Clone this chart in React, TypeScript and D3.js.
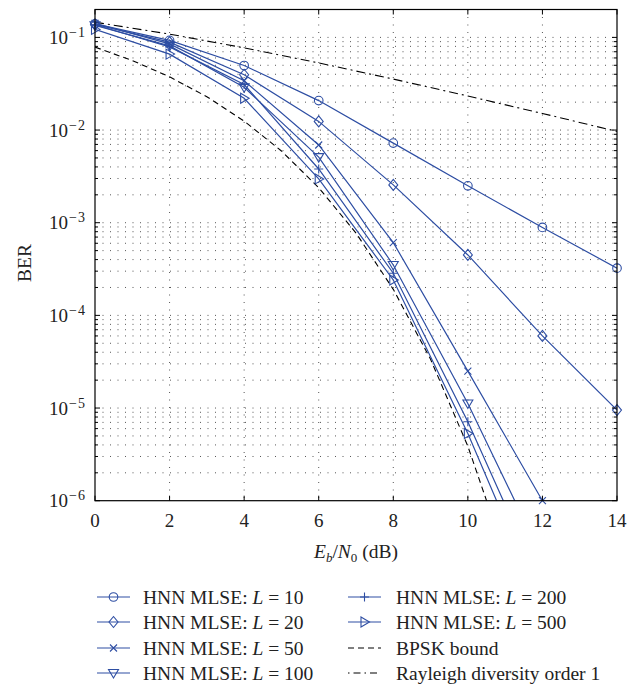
import React from "react";
import * as d3 from "d3";

const snrDb = [0, 2, 4, 6, 8, 10, 12, 14];
const berL10 = [0.14, 0.093, 0.0497, 0.0208, 0.00723, 0.0025, 0.00089, 0.000323];
const berL20 = [0.138, 0.089, 0.0395, 0.0124, 0.00256, 0.000449, 6.0e-5, 9.5e-6];
const berL50 = [0.142, 0.085, 0.034, 0.0069, 0.00061, 2.5e-5, 1.0e-6];
const berL100 = [0.135, 0.081, 0.029, 0.0051, 0.00035, 1.12e-5, 2.4e-7];
const berL200 = [0.137, 0.079, 0.031, 0.0038, 0.000285, 7.1e-6, 1.15e-7];
const berL500 = [0.122, 0.066, 0.022, 0.00297, 0.000241, 5.3e-6, 7e-8];

const bpskSnr = [0, 1, 2, 3, 4, 5, 6, 7, 8, 9, 10, 11];
const bpskBer = [0.0786, 0.0563, 0.0375, 0.0229, 0.0125, 0.00595, 0.00239, 0.000773, 0.000191, 3.36e-5, 3.87e-6, 2.61e-7];

const rayleighSnr = [0, 2, 4, 6, 8, 10, 12, 14];
const rayleighBer = [0.146, 0.1085, 0.0771, 0.053, 0.0355, 0.0233, 0.0151, 0.00967];

const xTicks = [0, 2, 4, 6, 8, 10, 12, 14];
const yDecades = [-6, -5, -4, -3, -2, -1];

const BLUE = "#2e4ea3";
const FONT = "'Liberation Serif', 'Times New Roman', serif";

type Series = { name: string; L: string; values: number[]; marker: string };
const series: Series[] = [
  { name: "HNN MLSE: ", L: "10", values: berL10, marker: "circle" },
  { name: "HNN MLSE: ", L: "20", values: berL20, marker: "diamond" },
  { name: "HNN MLSE: ", L: "50", values: berL50, marker: "x" },
  { name: "HNN MLSE: ", L: "100", values: berL100, marker: "tridown" },
  { name: "HNN MLSE: ", L: "200", values: berL200, marker: "plus" },
  { name: "HNN MLSE: ", L: "500", values: berL500, marker: "triright" },
];

function Marker({ type, x, y }: { type: string; x: number; y: number }) {
  const p = { fill: "none", stroke: BLUE, strokeWidth: 1.1 };
  if (type === "circle") return <circle cx={x} cy={y} r={4.3} {...p} />;
  if (type === "diamond")
    return <path d={`M${x},${y - 5.5}L${x + 4.5},${y}L${x},${y + 5.5}L${x - 4.5},${y}Z`} {...p} />;
  if (type === "x")
    return <path d={`M${x - 3.5},${y - 3.5}L${x + 3.5},${y + 3.5}M${x - 3.5},${y + 3.5}L${x + 3.5},${y - 3.5}`} {...p} />;
  if (type === "plus")
    return <path d={`M${x - 4.5},${y}L${x + 4.5},${y}M${x},${y - 4.5}L${x},${y + 4.5}`} {...p} />;
  if (type === "tridown")
    return <path d={`M${x - 5},${y - 3.5}L${x + 5},${y - 3.5}L${x},${y + 5}Z`} {...p} />;
  if (type === "triright")
    return <path d={`M${x - 3.5},${y - 5}L${x + 5},${y}L${x - 3.5},${y + 5}Z`} {...p} />;
  return null;
}

export default function App() {
  const W = 644, H = 690;
  const left = 95, right = 617, top = 9.5, bottom = 500.7;
  const x = d3.scaleLinear().domain([0, 14]).range([left, right]);
  const y = d3.scaleLog().domain([1e-6, 0.2]).range([bottom, top]);

  const line = d3
    .line<[number, number]>()
    .x((d) => x(d[0]))
    .y((d) => y(d[1]));

  const minorVals: number[] = [];
  for (let e = -6; e <= -1; e++) {
    for (let m = 1; m <= 9; m++) {
      const v = m * Math.pow(10, e);
      if (v >= 1e-6 && v <= 0.2) minorVals.push(v);
    }
  }

  const legendRows = [597, 622, 648, 673];
  const col1Line = [97, 130], col1Text = 143;
  const col2Line = [348, 381], col2Text = 396;

  return (
    <svg width={W} height={H} style={{ display: "block", position: "absolute", left: 0, top: 0 }} fontFamily={FONT}>
      <defs>
        <clipPath id="plotClip">
          <rect x={left} y={top} width={right - left} height={bottom - top} />
        </clipPath>
      </defs>
      <rect x={0} y={0} width={W} height={H} fill="white" />
      {/* grid */}
      <g stroke="#444" strokeWidth={0.9} strokeDasharray="1,6.5">
        {xTicks.filter((t) => t > 0 && t < 14).map((t) => (
          <line key={"gx" + t} x1={x(t)} x2={x(t)} y1={top} y2={bottom} />
        ))}
        {minorVals.filter((v) => v > 1e-6).map((v, i) => (
          <line key={"gy" + i} x1={left} x2={right} y1={y(v)} y2={y(v)} />
        ))}
      </g>
      {/* reference curves */}
      <g clipPath="url(#plotClip)" fill="none" stroke="#000" strokeWidth={1.1}>
        <path d={line(bpskSnr.map((s, i) => [s, bpskBer[i]] as [number, number])) || ""} strokeDasharray="6,4" />
        <path d={line(rayleighSnr.map((s, i) => [s, rayleighBer[i]] as [number, number])) || ""} strokeDasharray="9,4,2,4" />
      </g>
      {/* series */}
      <g clipPath="url(#plotClip)">
        {series.map((s, si) => (
          <g key={si}>
            <path
              d={line(s.values.map((v, i) => [snrDb[i], v] as [number, number])) || ""}
              fill="none"
              stroke={BLUE}
              strokeWidth={1.2}
            />
          </g>
        ))}
      </g>
      <g>
        {series.map((s, si) =>
          s.values.map((v, i) =>
            v >= 0.99e-6 ? <Marker key={si + "-" + i} type={s.marker} x={x(snrDb[i])} y={Math.min(y(v), bottom)} /> : null
          )
        )}
      </g>
      {/* frame */}
      <rect x={left} y={top} width={right - left} height={bottom - top} fill="none" stroke="#000" strokeWidth={1.2} />
      {/* ticks */}
      <g stroke="#000" strokeWidth={1}>
        {xTicks.map((t) => (
          <g key={"tx" + t}>
            <line x1={x(t)} x2={x(t)} y1={bottom} y2={bottom - 5} />
            <line x1={x(t)} x2={x(t)} y1={top} y2={top + 5} />
          </g>
        ))}
        {minorVals.map((v, i) => {
          const major = Math.abs(Math.log10(v) - Math.round(Math.log10(v))) < 1e-9;
          const len = major ? 5 : 3;
          return (
            <g key={"ty" + i}>
              <line x1={left} x2={left + len} y1={y(v)} y2={y(v)} />
              <line x1={right} x2={right - len} y1={y(v)} y2={y(v)} />
            </g>
          );
        })}
      </g>
      {/* tick labels */}
      <g fontSize={19} fill="#222">
        {xTicks.map((t) => (
          <text key={"lx" + t} x={x(t)} y={527} textAnchor="middle">
            {t}
          </text>
        ))}
        {yDecades.map((e) => (
          <text key={"ly" + e} x={86} y={y(Math.pow(10, e)) + 6.5} textAnchor="end">
            10
            <tspan fontSize={14} dy={-7} dx={1} letterSpacing={1}>
              {"\u2212" + -e}
            </tspan>
          </text>
        ))}
      </g>
      {/* axis labels */}
      <text x={0} y={0} transform="translate(31,263) rotate(-90)" textAnchor="middle" fontSize={19.5} fill="#222">
        BER
      </text>
      <text x={x(7)} y={558} textAnchor="middle" fontSize={19.5} fill="#222">
        <tspan fontStyle="italic">E</tspan>
        <tspan fontStyle="italic" fontSize={13} dy={4}>b</tspan>
        <tspan dy={-4}>/</tspan>
        <tspan fontStyle="italic">N</tspan>
        <tspan fontSize={13} dy={4}>0</tspan>
        <tspan dy={-4}> (dB)</tspan>
      </text>
      {/* legend */}
      <g fontSize={19.5} fill="#222">
        {series.map((s, i) => {
          const col = i < 4 ? 0 : 1;
          const row = i < 4 ? i : i - 4;
          const ly = legendRows[row];
          const lx = col === 0 ? col1Line : col2Line;
          const tx = col === 0 ? col1Text : col2Text;
          return (
            <g key={"lg" + i}>
              <line x1={lx[0]} x2={lx[1]} y1={ly} y2={ly} stroke={BLUE} strokeWidth={1.2} />
              <Marker type={s.marker} x={(lx[0] + lx[1]) / 2} y={ly} />
              <text x={tx} y={ly + 6.5}>
                {s.name}
                <tspan fontStyle="italic">L</tspan>
                {" = " + s.L}
              </text>
            </g>
          );
        })}
        <line x1={col2Line[0]} x2={col2Line[1]} y1={legendRows[2]} y2={legendRows[2]} stroke="#000" strokeWidth={1.1} strokeDasharray="6,4" />
        <text x={col2Text} y={legendRows[2] + 6.5}>BPSK bound</text>
        <line x1={col2Line[0]} x2={col2Line[1]} y1={legendRows[3]} y2={legendRows[3]} stroke="#000" strokeWidth={1.1} strokeDasharray="1.5,4,7,4" />
        <text x={col2Text} y={legendRows[3] + 6.5}>Rayleigh diversity order 1</text>
      </g>
    </svg>
  );
}
